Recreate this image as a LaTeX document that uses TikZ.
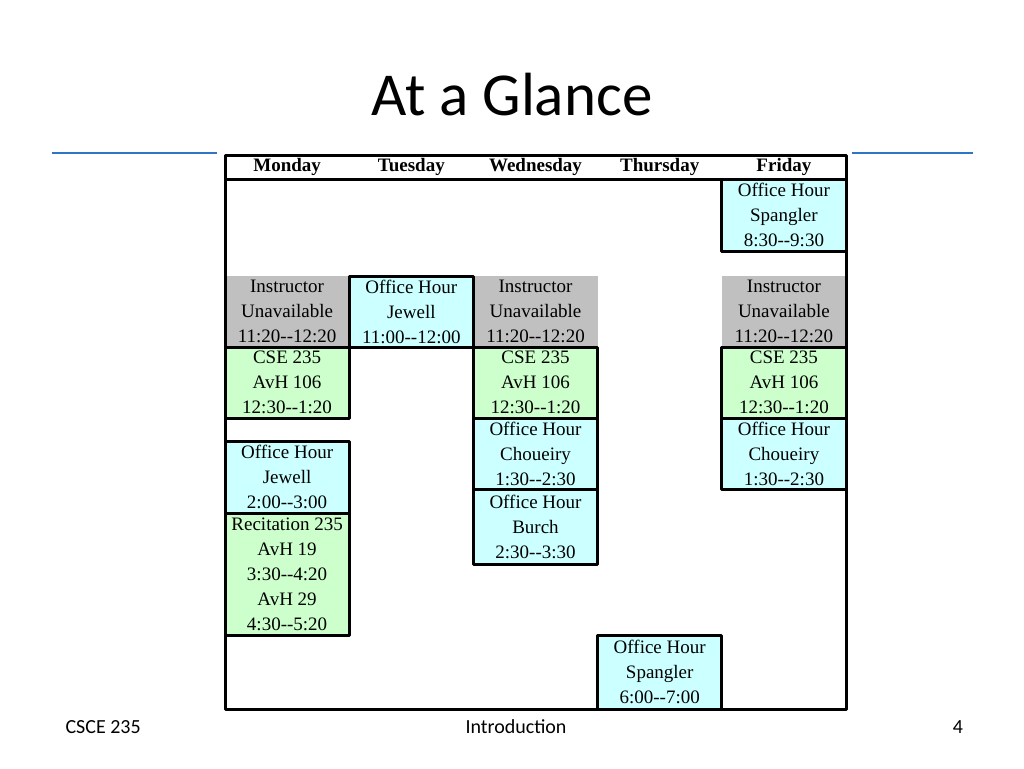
\documentclass[tikz,border=0pt]{standalone}
\usepackage{fontspec}
\setmainfont{Liberation Serif}
\newfontfamily\slidefont{Carlito}
\definecolor{slideblue}{RGB}{47,117,197}
\definecolor{ohcyan}{RGB}{204,255,255}
\definecolor{lecgreen}{RGB}{204,255,204}
\definecolor{nagray}{RGB}{192,192,192}
\newcommand\dsh{-\kern0pt-}
\tikzset{
  cell/.style={minimum width=124.2pt, inner sep=0pt, outer sep=0pt, align=center,
    font=\fontsize{19}{25}\selectfont},
  ohbox/.style={cell, draw, line width=3pt, fill=ohcyan},
  lecbox/.style={cell, draw, line width=3pt, fill=lecgreen},
  nabox/.style={cell, fill=nagray},
  dayhead/.style={cell, font=\bfseries\fontsize{19}{25}\selectfont},
  foot/.style={font=\slidefont\fontsize{20}{24}\selectfont, anchor=base}
}
\begin{document}
\begin{tikzpicture}[x=1pt, y=-1pt, line join=round]
  \def\xmon{287.1} \def\xtue{411.3} \def\xwed{535.5} \def\xthu{659.7} \def\xfri{783.9} % column centres
  \def\tleft{225} \def\tright{846} \def\ttop{155} \def\tbot{709}
  \useasboundingbox[fill=white] (0,0) rectangle (1024,768);
  \node[font=\slidefont\fontsize{61}{70}\selectfont, anchor=base] (title) at (512,115) {At a Glance};
  \draw[slideblue, line width=2pt] (52,153) -- (973,153);
  \fill[white] (217,150) rectangle (852,713);
  % header row
  \foreach \d [count=\i] in {Monday,Tuesday,Wednesday,Thursday,Friday}
    \node[dayhead, minimum height=24pt] (day\i) at ({\tleft+(\i-0.5)*124.2},167) {\d};
  % morning
  \node[ohbox, minimum height=72pt] (friOH) at (\xfri,215) {Office Hour\\Spangler\\8:30\dsh9:30};
  \node[nabox, minimum height=71pt] (monNA) at (\xmon,311.5) {Instructor\\Unavailable\\11:20\dsh12:20};
  \node[nabox, minimum height=71pt] (wedNA) at (\xwed,311.5) {Instructor\\Unavailable\\11:20\dsh12:20};
  \node[nabox, minimum height=71pt] (friNA) at (\xfri,311.5) {Instructor\\Unavailable\\11:20\dsh12:20};
  \node[ohbox, minimum height=71pt] (tueOH) at (\xtue,311.5) {Office Hour\\Jewell\\11:00\dsh12:00};
  % lectures
  \node[lecbox, minimum height=71pt] (monCSE) at (\xmon,382.5) {CSE 235\\AvH 106\\12:30\dsh1:20};
  \node[lecbox, minimum height=71pt] (wedCSE) at (\xwed,382.5) {CSE 235\\AvH 106\\12:30\dsh1:20};
  \node[lecbox, minimum height=71pt] (friCSE) at (\xfri,382.5) {CSE 235\\AvH 106\\12:30\dsh1:20};
  % afternoon
  \node[ohbox, minimum height=71pt] (wedCho) at (\xwed,453.5) {Office Hour\\Choueiry\\1:30\dsh2:30};
  \node[ohbox, minimum height=71pt] (friCho) at (\xfri,453.5) {Office Hour\\Choueiry\\1:30\dsh2:30};
  \node[ohbox, minimum height=75pt] (wedBur) at (\xwed,526.5) {Office Hour\\Burch\\2:30\dsh3:30};
  \node[ohbox, minimum height=72pt] (monJew) at (\xmon,477) {Office Hour\\Jewell\\2:00\dsh3:00};
  \node[lecbox, minimum height=122.5pt] (monRec) at (\xmon,574.25) {Recitation 235\\AvH 19\\3:30\dsh4:20\\AvH 29\\4:30\dsh5:20};
  \node[ohbox, minimum height=74pt] (thuSpa) at (\xthu,672) {Office Hour\\Spangler\\6:00\dsh7:00};
  % frame
  \draw[line width=3pt] (\tleft,\ttop) rectangle (\tright,\tbot);
  \draw[line width=3pt] (\tleft,179) -- (\tright,179);
  % footer
  \node[foot, anchor=base west] (course) at (62,733) {CSCE 235};
  \node[foot] (topic) at (516,733) {Introduction};
  \node[foot] (page) at (958,733) {4};
\end{tikzpicture}
\end{document}
